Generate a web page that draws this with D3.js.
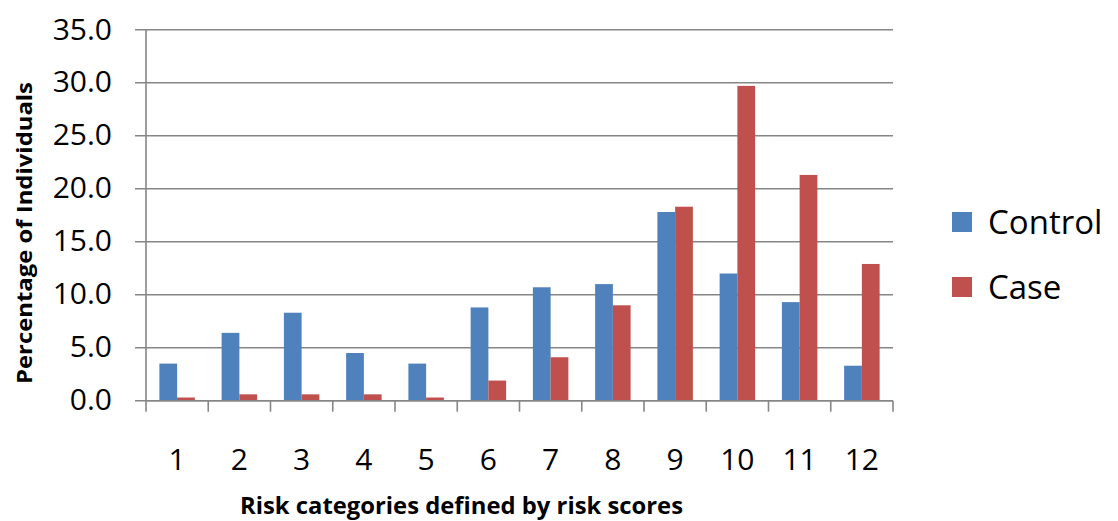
<!DOCTYPE html>
<html>
<head>
<meta charset="utf-8">
<script src="https://cdn.jsdelivr.net/npm/d3@7"></script>
<style>
  body { margin: 0; background: #fff; }
  text { font-family: "Open Sans", sans-serif; }
</style>
</head>
<body>
<div id="chart"></div>
<script>
const categories = ['1', '2', '3', '4', '5', '6', '7', '8', '9', '10', '11', '12'];
const control = [3.5, 6.4, 8.3, 4.5, 3.5, 8.8, 10.7, 11.0, 17.8, 12.0, 9.3, 3.3];
const caseVals = [0.3, 0.6, 0.6, 0.6, 0.3, 1.9, 4.1, 9.0, 18.3, 29.7, 21.3, 12.9];
const seriesNames = ['Control', 'Case'];
const colors = ['#4F81BD', '#C0504D'];
const yTicks = [0, 5, 10, 15, 20, 25, 30, 35];

const margin = { top: 29.7, right: 225, bottom: 120.3, left: 146 };
const width = 1118 - margin.left - margin.right;
const height = 521 - margin.top - margin.bottom;

const svg = d3.select('#chart')
  .append('svg')
  .attr('width', 1118)
  .attr('height', 521);

const g = svg.append('g')
  .attr('transform', 'translate(' + margin.left + ',' + margin.top + ')');

const x = d3.scaleBand()
  .domain(categories)
  .range([0, width])
  .paddingInner(0.43)
  .paddingOuter(0.215);

const xs = d3.scaleBand()
  .domain(seriesNames)
  .range([0, x.bandwidth()]);

const y = d3.scaleLinear().domain([0, 35]).range([height, 0]);

// gridlines + left ticks
g.append('g')
  .selectAll('line')
  .data(yTicks)
  .join('line')
  .attr('x1', -11)
  .attr('x2', width)
  .attr('y1', d => y(d))
  .attr('y2', d => y(d))
  .attr('stroke', '#868686')
  .attr('stroke-width', 1.6);

// y labels
g.append('g')
  .selectAll('text')
  .data(yTicks)
  .join('text')
  .attr('x', -34)
  .attr('y', d => y(d) - 1)
  .attr('dy', '0.36em')
  .attr('text-anchor', 'end')
  .attr('font-size', 30)
  .attr('fill', '#000')
  .text(d => d.toFixed(1));

// bars
const data = categories.map((c, i) => ({ cat: c, values: [control[i], caseVals[i]] }));
g.append('g')
  .selectAll('g')
  .data(data)
  .join('g')
  .attr('transform', d => 'translate(' + x(d.cat) + ',0)')
  .selectAll('rect')
  .data(d => d.values.map((v, j) => ({ name: seriesNames[j], v: v, color: colors[j] })))
  .join('rect')
  .attr('x', d => xs(d.name))
  .attr('width', xs.bandwidth())
  .attr('y', d => y(d.v))
  .attr('height', d => y(0) - y(d.v))
  .attr('fill', d => d.color);

// y axis line
g.append('line')
  .attr('x1', 0).attr('x2', 0)
  .attr('y1', 0).attr('y2', height)
  .attr('stroke', '#868686')
  .attr('stroke-width', 1.6);

// x axis line and ticks
g.append('line')
  .attr('x1', 0).attr('x2', width)
  .attr('y1', height).attr('y2', height)
  .attr('stroke', '#868686')
  .attr('stroke-width', 1.6);

const step = x.step();
g.append('g')
  .selectAll('line')
  .data(d3.range(categories.length + 1))
  .join('line')
  .attr('x1', i => i * step)
  .attr('x2', i => i * step)
  .attr('y1', height)
  .attr('y2', height + 11)
  .attr('stroke', '#868686')
  .attr('stroke-width', 1.6);

// x labels
g.append('g')
  .selectAll('text')
  .data(categories)
  .join('text')
  .attr('x', d => x(d) + x.bandwidth() / 2)
  .attr('y', 459 - margin.top)
  .attr('dy', '0.36em')
  .attr('text-anchor', 'middle')
  .attr('font-size', 30)
  .attr('fill', '#000')
  .text(d => d);

// axis titles
svg.append('text')
  .attr('x', 461.5)
  .attr('y', 505.5)
  .attr('dy', '0.36em')
  .attr('text-anchor', 'middle')
  .attr('font-size', 23)
  .attr('font-weight', 'bold')
  .attr('textLength', 443)
  .attr('lengthAdjust', 'spacingAndGlyphs')
  .text('Risk categories defined by risk scores');

svg.append('text')
  .attr('transform', 'translate(24,233) rotate(-90)')
  .attr('dy', '0.36em')
  .attr('text-anchor', 'middle')
  .attr('font-size', 22)
  .attr('font-weight', 'bold')
  .attr('textLength', 302)
  .attr('lengthAdjust', 'spacingAndGlyphs')
  .text('Percentage of Individuals');

// legend
const legend = svg.append('g')
  .selectAll('g')
  .data(seriesNames)
  .join('g')
  .attr('transform', (d, i) => 'translate(952,' + (212 + i * 65) + ')');

legend.append('rect')
  .attr('width', 20)
  .attr('height', 20)
  .attr('fill', (d, i) => colors[i]);

legend.append('text')
  .attr('x', 36)
  .attr('y', 10)
  .attr('dy', '0.36em')
  .attr('font-size', 33)
  .text(d => d);
</script>
</body>
</html>
